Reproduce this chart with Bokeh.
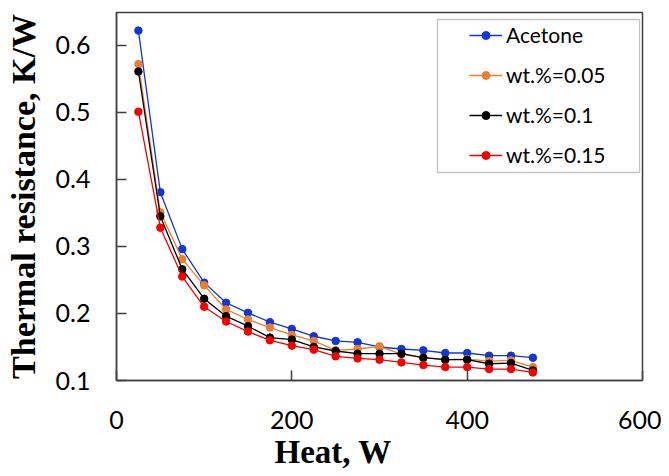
from bokeh.plotting import figure
from bokeh.models import Range1d, FixedTicker, Legend, LegendItem, BoxAnnotation, Title
from bokeh.embed import file_html
from bokeh.resources import INLINE

heat = [25, 50, 75, 100, 125, 150, 175, 200, 225, 250, 275, 300, 325, 350, 375, 400, 425, 450, 475]
acetone = [0.622, 0.381, 0.296, 0.246, 0.216, 0.201, 0.187, 0.177, 0.166, 0.159, 0.157, 0.150,
           0.147, 0.145, 0.141, 0.141, 0.137, 0.137, 0.134]
wt_005 = [0.572, 0.351, 0.281, 0.242, 0.206, 0.191, 0.179, 0.168, 0.159, 0.145, 0.147, 0.151,
          0.139, 0.134, 0.131, 0.132, 0.129, 0.130, 0.120]
wt_01 = [0.561, 0.345, 0.266, 0.222, 0.196, 0.181, 0.164, 0.161, 0.150, 0.144, 0.140, 0.140,
         0.140, 0.134, 0.131, 0.131, 0.125, 0.126, 0.115]
wt_015 = [0.501, 0.328, 0.255, 0.210, 0.188, 0.173, 0.160, 0.152, 0.146, 0.136, 0.133, 0.131,
          0.127, 0.123, 0.120, 0.120, 0.117, 0.117, 0.112]

series_names = ["Acetone", "wt.%=0.05", "wt.%=0.1", "wt.%=0.15"]
series_values = [acetone, wt_005, wt_01, wt_015]
series_colors = ["#1035d8", "#ed7d31", "#000000", "#f50000"]

x_ticks = [0, 200, 400, 600]
y_ticks = [0.1, 0.2, 0.3, 0.4, 0.5, 0.6]
x_title = "Heat, W"
y_title = "Thermal resistance, K/W"

p = figure(width=661, height=476, output_backend="svg", toolbar_location=None,
           x_range=Range1d(0, 600), y_range=Range1d(0.1, 0.649),
           min_border_left=116, min_border_right=19, min_border_top=12, min_border_bottom=96)
p.grid.visible = False
p.outline_line_color = "#404040"
p.outline_line_width = 1.5
p.background_fill_color = "white"
p.border_fill_color = "white"

for ax, ticks in ((p.xaxis, x_ticks), (p.yaxis, y_ticks)):
    ax.ticker = FixedTicker(ticks=ticks)
    ax.minor_tick_line_color = None
    ax.major_tick_in = 10
    ax.major_tick_out = 0
    ax.major_tick_line_color = "#404040"
    ax.major_tick_line_width = 1.5
    ax.axis_line_color = "#404040"
    ax.axis_line_width = 1.5
    ax.major_label_text_font = "Lato"
    ax.major_label_text_font_size = "25px"
    ax.major_label_text_color = "black"
    ax.axis_label_text_font = "Liberation Serif"
    ax.axis_label_text_font_style = "bold"
    ax.axis_label_text_color = "black"

p.yaxis.axis_label = y_title
p.xaxis.major_label_standoff = 30
p.yaxis.major_label_standoff = 26
p.yaxis.axis_label_standoff = 11
p.yaxis.axis_label_text_font_size = "34px"

xtitle = Title(text=x_title, align="left", offset=158, standoff=0,
               text_font="Liberation Serif", text_font_style="bold", text_font_size="33px",
               text_color="black")
p.add_layout(xtitle, "below")

items = []
for name, ys, color in zip(series_names, series_values, series_colors):
    rl = p.line(heat, ys, line_color=color, line_width=1.3)
    rs = p.scatter(heat, ys, size=7.5, fill_color=color, line_color=color)
    items.append(LegendItem(label=name, renderers=[rl, rs]))

box = BoxAnnotation(left=321, right=523, top=361, bottom=208,
                    left_units="screen", right_units="screen",
                    top_units="screen", bottom_units="screen",
                    fill_color=None, fill_alpha=0, line_color="#404040", line_width=1.3)
p.add_layout(box)

legend = Legend(items=items, location=(348, 208), padding=5, spacing=15,
                glyph_width=33, glyph_height=20, label_standoff=4,
                label_text_font="Lato", label_text_font_size="21px", label_text_color="black",
                border_line_alpha=0, background_fill_alpha=0, margin=0)
p.add_layout(legend)

open("out.html", "w").write(file_html(p, INLINE))
